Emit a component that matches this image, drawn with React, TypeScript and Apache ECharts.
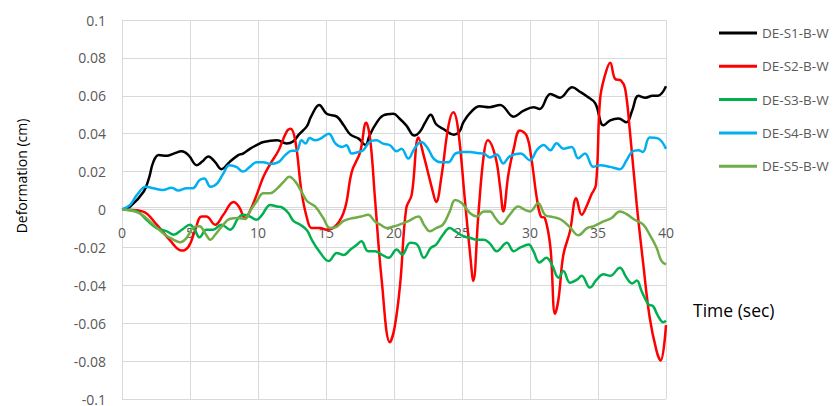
import React, { useEffect, useRef } from "react";
import * as echarts from "echarts";

const seriesNames = ["DE-S1-B-W", "DE-S2-B-W", "DE-S3-B-W", "DE-S4-B-W", "DE-S5-B-W"];
const seriesColors = ["#000000", "#ff0000", "#00b050", "#00b0f0", "#70ad47"];

const s1T = [0, 0.6, 1.6, 2.0, 2.3, 2.7, 3.3, 3.8, 4.4, 4.9, 5.5, 5.9, 6.35, 6.85, 7.3, 7.9, 8.55, 8.9, 9.4, 9.9, 10.4, 11.4, 12.1, 12.6, 13.0, 13.6, 13.9, 14.5, 15.05, 15.8, 16.3, 16.8, 17.4, 17.9, 18.2, 18.6, 19.2, 19.95, 20.4, 20.9, 21.5, 21.9, 22.3, 22.7, 23.1, 23.6, 24.4, 24.8, 25.1, 25.6, 26.3, 27.0, 27.8, 28.8, 29.5, 30.25, 30.7, 31.5, 32.2, 33.1, 33.7, 34.2, 34.8, 35.4, 35.9, 36.5, 37.1, 37.5, 37.97, 38.5, 39.0, 39.4, 40];
const s1V = [0, 0.0016, 0.0095, 0.017, 0.025, 0.0287, 0.0283, 0.0295, 0.0307, 0.0286, 0.0234, 0.0253, 0.028, 0.025, 0.0213, 0.025, 0.0287, 0.0295, 0.032, 0.034, 0.0356, 0.0365, 0.0348, 0.036, 0.0395, 0.044, 0.049, 0.0552, 0.0505, 0.049, 0.0444, 0.0395, 0.0374, 0.034, 0.039, 0.0444, 0.0496, 0.0505, 0.048, 0.0444, 0.039, 0.041, 0.046, 0.05, 0.045, 0.0426, 0.0395, 0.041, 0.046, 0.051, 0.0545, 0.054, 0.0552, 0.049, 0.052, 0.054, 0.053, 0.061, 0.059, 0.0645, 0.062, 0.0596, 0.056, 0.0444, 0.047, 0.048, 0.046, 0.052, 0.06, 0.059, 0.06, 0.06, 0.065];

const s2T = [0, 1.5, 2.55, 3.5, 4.4, 4.9, 5.35, 5.85, 6.2, 6.85, 7.45, 8.2, 8.6, 9.05, 9.4, 9.9, 10.4, 10.9, 11.5, 12.1, 12.4, 12.75, 13.2, 13.6, 13.95, 14.56, 15.05, 15.8, 16.4, 16.9, 17.5, 17.95, 18.25, 18.6, 19.1, 19.7, 20.05, 20.45, 20.9, 21.3, 21.8, 22.2, 22.8, 23.1, 23.5, 24.0, 24.36, 24.7, 25.2, 25.6, 25.83, 26.2, 26.6, 26.9, 27.45, 27.8, 28.04, 28.4, 28.8, 29.26, 29.75, 30.1, 30.5, 30.8, 31.1, 31.5, 31.84, 32.1, 32.45, 32.94, 33.4, 33.8, 34.2, 34.5, 34.85, 35.15, 35.5, 35.9, 36.25, 36.7, 37.0, 37.35, 37.85, 38.33, 38.8, 39.3, 39.6, 40];
const s2V = [0, -0.001, -0.008, -0.016, -0.0217, -0.0195, -0.0115, -0.0037, -0.0037, -0.008, -0.0028, 0.004, 0.0015, -0.0045, -0.001, 0.0077, 0.0173, 0.024, 0.031, 0.041, 0.0426, 0.036, 0.0094, -0.0045, -0.0098, -0.0098, -0.0107, -0.008, 0.0007, 0.02, 0.03, 0.0458, 0.037, 0.006, -0.0377, -0.07, -0.062, -0.0395, 0.0007, 0.0077, 0.038, 0.028, 0.011, 0.004, 0.018, 0.044, 0.0513, 0.043, 0.006, -0.0238, -0.0377, -0.003, 0.0287, 0.0365, 0.028, 0.012, -0.001, 0.018, 0.032, 0.0417, 0.039, 0.027, 0.006, -0.0037, -0.0045, -0.02, -0.055, -0.047, -0.024, -0.0115, 0.006, -0.0028, 0.0024, 0.0077, 0.013, 0.058, 0.0705, 0.0775, 0.069, 0.068, 0.0636, 0.041, 0.0024, -0.029, -0.057, -0.0745, -0.0797, -0.061];

const s3T = [0, 1.1, 1.8, 2.55, 3.3, 3.8, 4.4, 5.0, 5.35, 5.7, 6.2, 6.7, 7.3, 7.95, 8.55, 8.9, 9.4, 9.9, 10.3, 10.9, 11.4, 11.8, 12.25, 12.6, 13.1, 13.6, 13.95, 14.5, 15.2, 15.8, 16.3, 16.8, 17.2, 17.6, 18.1, 18.6, 19.1, 19.6, 20.2, 20.6, 21.2, 21.7, 22.2, 22.7, 23.1, 23.6, 24.1, 24.5, 25.1, 25.6, 26.1, 26.6, 27.06, 27.55, 28.3, 28.8, 29.3, 29.9, 30.25, 30.7, 31.2, 31.6, 32.1, 32.45, 32.94, 33.45, 33.8, 34.4, 34.9, 35.4, 35.9, 36.6, 37.1, 37.5, 37.85, 38.2, 38.7, 39.05, 39.4, 39.8, 40];
const s3V = [0, -0.001, -0.0054, -0.0098, -0.0115, -0.0133, -0.0107, -0.008, -0.0107, -0.0147, -0.0107, -0.0107, -0.008, -0.0107, -0.0045, -0.0028, -0.0037, -0.0054, -0.0028, 0.0024, 0.0016, 0.001, -0.002, -0.006, -0.008, -0.011, -0.0159, -0.022, -0.0272, -0.0229, -0.024, -0.0211, -0.019, -0.0168, -0.022, -0.022, -0.0238, -0.0255, -0.0211, -0.0238, -0.0176, -0.0185, -0.0255, -0.0203, -0.0185, -0.0133, -0.0098, -0.0115, -0.0141, -0.015, -0.0159, -0.0159, -0.018, -0.022, -0.0176, -0.022, -0.02, -0.0185, -0.022, -0.028, -0.0255, -0.029, -0.036, -0.0325, -0.0386, -0.037, -0.035, -0.0412, -0.037, -0.0342, -0.035, -0.0307, -0.036, -0.039, -0.0375, -0.043, -0.05, -0.051, -0.056, -0.0595, -0.0587];

const s4T = [0, 0.6, 1.1, 1.76, 2.3, 3.0, 3.65, 4.14, 4.75, 5.2, 5.7, 6.05, 6.5, 7.0, 7.45, 7.9, 8.4, 8.9, 9.4, 9.9, 10.4, 10.9, 11.5, 12.0, 12.5, 12.85, 13.2, 13.5, 13.8, 14.2, 14.6, 15.2, 15.7, 16.2, 16.5, 16.9, 17.4, 17.75, 18.2, 18.7, 19.2, 19.7, 20.2, 20.55, 21.05, 21.5, 22.0, 22.5, 22.9, 23.4, 24.0, 24.5, 25.1, 25.6, 26.1, 26.6, 27.06, 27.55, 28.04, 28.5, 29.3, 30.0, 30.5, 31.0, 31.5, 31.96, 32.45, 33.06, 33.55, 34.04, 34.66, 35.15, 35.9, 36.6, 37.1, 37.5, 37.97, 38.3, 38.8, 39.4, 40];
const s4V = [0, 0.0024, 0.0077, 0.012, 0.0112, 0.0103, 0.0115, 0.01, 0.0112, 0.0112, 0.0155, 0.0164, 0.012, 0.0138, 0.019, 0.0234, 0.0225, 0.02, 0.0225, 0.025, 0.025, 0.024, 0.025, 0.0287, 0.031, 0.031, 0.0365, 0.0348, 0.0377, 0.0365, 0.0374, 0.04, 0.0348, 0.033, 0.0339, 0.0295, 0.0304, 0.0313, 0.0356, 0.0365, 0.0348, 0.0339, 0.0307, 0.0321, 0.0269, 0.0321, 0.0356, 0.0321, 0.027, 0.025, 0.025, 0.0295, 0.0304, 0.0304, 0.0298, 0.0295, 0.0275, 0.029, 0.0243, 0.028, 0.0295, 0.026, 0.0313, 0.034, 0.0313, 0.035, 0.0321, 0.033, 0.027, 0.0295, 0.0225, 0.0234, 0.0225, 0.0213, 0.026, 0.0304, 0.0313, 0.0304, 0.038, 0.0375, 0.032];

const s5T = [0, 1.3, 2.3, 3.16, 3.8, 4.26, 4.75, 5.2, 5.7, 6.1, 6.5, 6.85, 7.45, 7.9, 8.55, 9.05, 9.4, 9.9, 10.4, 10.9, 11.4, 11.9, 12.3, 12.75, 13.2, 13.6, 14.2, 14.8, 15.3, 15.8, 16.3, 17.0, 17.6, 18.1, 18.6, 19.0, 19.5, 19.95, 20.4, 21.0, 21.8, 22.2, 22.65, 23.1, 23.6, 24.1, 24.5, 25.0, 25.6, 26.1, 26.6, 27.06, 27.45, 27.9, 28.5, 29.14, 29.6, 30.0, 30.6, 31.1, 31.7, 32.3, 32.94, 33.55, 34.2, 34.66, 35.4, 36.0, 36.6, 37.1, 37.7, 38.33, 38.8, 39.3, 39.65, 40];
const s5V = [0, -0.002, -0.008, -0.0133, -0.016, -0.0173, -0.015, -0.0098, -0.0089, -0.0124, -0.016, -0.0133, -0.008, -0.005, -0.0045, -0.005, -0.001, 0.0042, 0.0086, 0.0086, 0.011, 0.0147, 0.0173, 0.0147, 0.0094, 0.0045, 0.0016, -0.0045, -0.0098, -0.009, -0.006, -0.0045, -0.0037, -0.0028, -0.0063, -0.008, -0.0098, -0.009, -0.008, -0.0063, -0.0037, -0.008, -0.0115, -0.0098, -0.008, -0.001, 0.005, 0.0033, -0.002, -0.0037, -0.001, -0.001, -0.0045, -0.0077, -0.0028, 0.0016, -0.0001, -0.001, 0.0033, -0.0028, -0.004, -0.0054, -0.0094, -0.0136, -0.0098, -0.0089, -0.0063, -0.0045, -0.001, -0.0024, -0.0054, -0.008, -0.0133, -0.02, -0.027, -0.029];

const seriesTimes = [s1T, s2T, s3T, s4T, s5T];
const seriesValues = [s1V, s2V, s3V, s4V, s5V];

const xMin = 0;
const xMax = 40;
const xInterval = 5;
const yMin = -0.1;
const yMax = 0.1;
const yInterval = 0.02;

const xTitle = "Time (sec)";
const yTitle = "Deformation (cm)";

const FONT = "'Open Sans', sans-serif";

const GRID_TOP = 20;
const GRID_BOTTOM = 3;
const CHART_H = 406;

export default function App() {
  const ref = useRef<HTMLDivElement>(null);

  useEffect(() => {
    if (!ref.current) return;
    const chart = echarts.init(ref.current, null, { renderer: "svg" });
    const series = seriesNames.map((name, i) => ({
      name,
      type: "line",
      data: seriesTimes[i].map((t, j) => [t, seriesValues[i][j]]),
      smooth: 0.4,
      showSymbol: false,
      symbol: "none",
      lineStyle: { color: seriesColors[i], width: 2.5 },
      itemStyle: { color: seriesColors[i] },
      z: 3,
    }));
    // distance from the bottom of the grid to the y = 0 line
    const gridH = CHART_H - GRID_TOP - GRID_BOTTOM;
    const zeroOffset = (gridH * (0 - yMin)) / (yMax - yMin);
    chart.setOption({
      animation: false,
      backgroundColor: "#ffffff",
      textStyle: { fontFamily: FONT },
      grid: { left: 122, right: 169, top: GRID_TOP, bottom: GRID_BOTTOM, containLabel: false },
      legend: {
        orient: "vertical",
        left: 719,
        top: 24,
        padding: 0,
        icon: "rect",
        itemWidth: 38,
        itemHeight: 3,
        itemGap: 15.3,
        itemTextGap: 4,
        textStyle: { fontFamily: FONT, fontSize: 13.5, color: "#595959", lineHeight: 18 },
        data: seriesNames,
      },
      xAxis: {
        type: "value",
        min: xMin,
        max: xMax,
        interval: xInterval,
        position: "bottom",
        offset: -zeroOffset,
        axisLine: { show: true, onZero: false, lineStyle: { color: "#d9d9d9", width: 1 } },
        axisTick: { show: false },
        axisLabel: { color: "#595959", fontSize: 14, fontFamily: FONT, margin: 18 },
        splitLine: { show: true, lineStyle: { color: "#d9d9d9", width: 1 } },
      },
      yAxis: {
        type: "value",
        min: yMin,
        max: yMax,
        interval: yInterval,
        axisLine: { show: true, onZero: false, lineStyle: { color: "#d9d9d9", width: 1 } },
        axisTick: { show: false },
        axisLabel: {
          color: "#595959",
          fontSize: 14,
          fontFamily: FONT,
          margin: 16,
          formatter: (v: number) => String(Math.round(v * 100) / 100),
        },
        splitLine: { show: true, lineStyle: { color: "#d9d9d9", width: 1 } },
      },
      graphic: [
        {
          type: "text",
          x: 21,
          y: 176,
          rotation: Math.PI / 2,
          style: {
            text: yTitle,
            fontFamily: FONT,
            fontSize: 14,
            fill: "#000000",
            align: "center",
            verticalAlign: "middle",
          },
        },
        {
          type: "text",
          left: 693,
          top: 301,
          style: { text: xTitle, fontFamily: FONT, fontSize: 17.5, fill: "#000000" },
        },
      ],
      series,
    });
    return () => chart.dispose();
  }, []);

  return (
    <div
      ref={ref}
      style={{ position: "fixed", left: 0, top: 0, width: 835, height: 406 }}
    />
  );
}
